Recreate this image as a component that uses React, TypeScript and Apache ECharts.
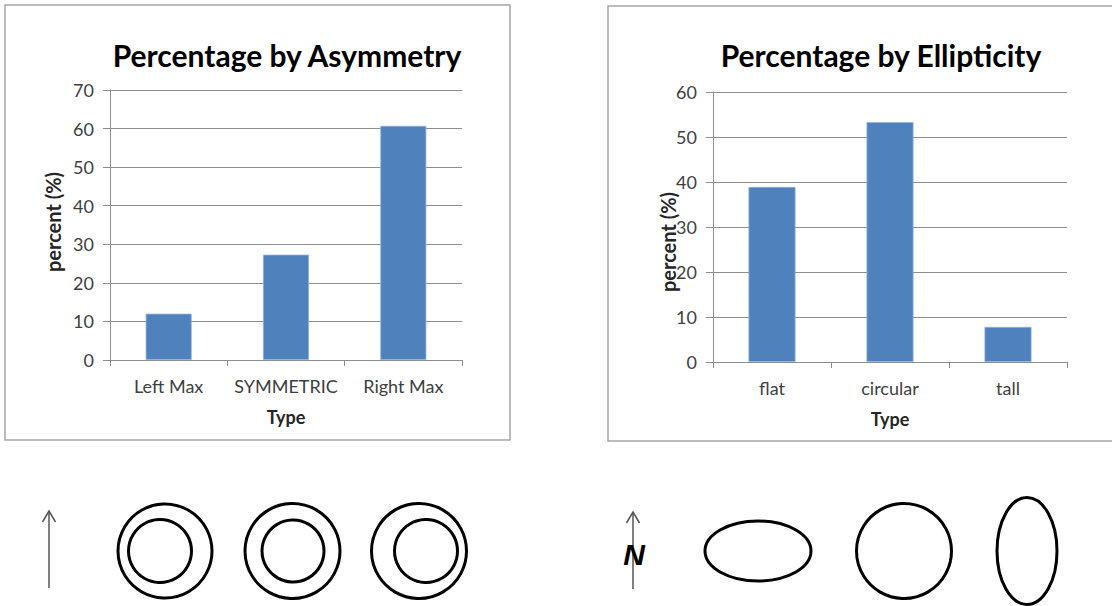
import React, { useEffect, useRef } from "react";
import * as echarts from "echarts";

// Category data for the two bar charts
const asymmetryTypes = ["Left Max", "SYMMETRIC", "Right Max"];
const asymmetryPercent = [12.0, 27.3, 60.7];

const ellipticityTypes = ["flat", "circular", "tall"];
const ellipticityPercent = [38.9, 53.3, 7.8];

const asymmetryTicks = { min: 0, max: 70, interval: 10 };
const ellipticityTicks = { min: 0, max: 60, interval: 10 };

const FONT = "Lato, 'Noto Sans', sans-serif";
const BAR = "#4f81bd";
const GRID_LINE = "#8e8e8e";
const LABEL = "#404040";

function valueAxis(gridIndex: number, t: { min: number; max: number; interval: number }) {
  return {
    type: "value",
    gridIndex,
    min: t.min,
    max: t.max,
    interval: t.interval,
    axisLine: { show: true, lineStyle: { color: GRID_LINE, width: 1 } },
    axisTick: { show: true, length: 7, lineStyle: { color: GRID_LINE } },
    axisLabel: { color: LABEL, fontFamily: FONT, fontSize: 18, margin: 16 },
    splitLine: { show: true, lineStyle: { color: GRID_LINE, width: 1 } },
  };
}

function categoryAxis(gridIndex: number, data: string[]) {
  return {
    type: "category",
    gridIndex,
    data,
    axisLine: { show: true, lineStyle: { color: GRID_LINE, width: 1 } },
    axisTick: { show: true, length: 6, alignWithLabel: false, lineStyle: { color: GRID_LINE } },
    axisLabel: { color: LABEL, fontFamily: FONT, fontSize: 18, margin: 17, interval: 0 },
    name: "Type",
    nameLocation: "middle",
    nameGap: 48,
    nameTextStyle: { color: "#262626", fontFamily: FONT, fontSize: 18, fontWeight: "bold" },
  };
}

function barSeries(idx: number, data: number[], width: number) {
  return {
    type: "bar",
    xAxisIndex: idx,
    yAxisIndex: idx,
    data,
    barWidth: width,
    itemStyle: { color: BAR, borderColor: "#8fb0d8", borderWidth: 0.8 },
  };
}

const ring = (cx: number, cy: number, r: number) => ({
  type: "circle",
  shape: { cx, cy, r },
  style: { fill: "none", stroke: "#000", lineWidth: 3 },
});

const oval = (cx: number, cy: number, rx: number, ry: number) => ({
  type: "ellipse",
  shape: { cx, cy, rx, ry },
  style: { fill: "none", stroke: "#000", lineWidth: 3 },
});

const northArrow = (x: number, y1: number, y2: number) => [
  {
    type: "line",
    shape: { x1: x, y1: y2, x2: x, y2: y1 },
    style: { stroke: "#555", lineWidth: 1.5 },
  },
  {
    type: "polyline",
    shape: { points: [[x - 6.5, y1 + 11], [x, y1], [x + 6.5, y1 + 11]] },
    style: { fill: "none", stroke: "#555", lineWidth: 1.5 },
  },
];

const titleText = (x: number, text: string) => ({
  type: "text",
  x,
  y: 55,
  style: {
    text,
    fill: "#000",
    font: `bold 30px ${FONT}`,
    textAlign: "center",
    textVerticalAlign: "middle",
  },
});

const valueName = (x: number, y: number) => ({
  type: "text",
  x,
  y,
  rotation: Math.PI / 2,
  style: {
    text: "percent (%)",
    fill: "#262626",
    font: `bold 20px ${FONT}`,
    textAlign: "center",
    textVerticalAlign: "middle",
  },
});

export default function App() {
  const ref = useRef<HTMLDivElement>(null);

  useEffect(() => {
    if (!ref.current) return;
    const chart = echarts.init(ref.current, null, { renderer: "svg" });

    const frameStyle = { fill: "none", stroke: "#a6a6a6", lineWidth: 1.5 };

    chart.setOption({
      animation: false,
      backgroundColor: "#ffffff",
      grid: [
        { left: 110, top: 90, width: 352, height: 270 },
        { left: 713, top: 92, width: 354, height: 270 },
      ],
      xAxis: [categoryAxis(0, asymmetryTypes), categoryAxis(1, ellipticityTypes)],
      yAxis: [valueAxis(0, asymmetryTicks), valueAxis(1, ellipticityTicks)],
      series: [barSeries(0, asymmetryPercent, 46), barSeries(1, ellipticityPercent, 47)],
      graphic: [
        // chart frames
        { type: "rect", shape: { x: 5, y: 5, width: 505, height: 435 }, style: frameStyle, z: -1 },
        { type: "rect", shape: { x: 608, y: 6, width: 530, height: 435 }, style: frameStyle, z: -1 },
        // titles
        titleText(287, "Percentage by Asymmetry"),
        titleText(881, "Percentage by Ellipticity"),
        // value-axis names
        valueName(53, 222),
        valueName(668, 242),
        // asymmetry sketches: north arrow and nested rings
        ...northArrow(49, 511, 588),
        ring(165, 551, 47),
        ring(160, 551, 31.5),
        ring(292.5, 551, 47.5),
        ring(293, 551, 31),
        ring(419, 551, 47.5),
        ring(426, 551, 31.5),
        // ellipticity sketches: north arrow, N and outlines
        ...northArrow(633, 512, 589),
        {
          type: "text",
          x: 634,
          y: 554,
          style: {
            text: "N",
            fill: "#000",
            font: "italic bold 30px 'Liberation Sans', Arial, sans-serif",
            textAlign: "center",
            textVerticalAlign: "middle",
          },
        },
        oval(758, 551, 53, 30),
        ring(904, 551, 47.5),
        oval(1027, 551, 30, 53.5),
      ],
    });

    return () => chart.dispose();
  }, []);

  return (
    <div
      ref={ref}
      style={{ position: "fixed", left: 0, top: 0, width: 1112, height: 606 }}
    />
  );
}
